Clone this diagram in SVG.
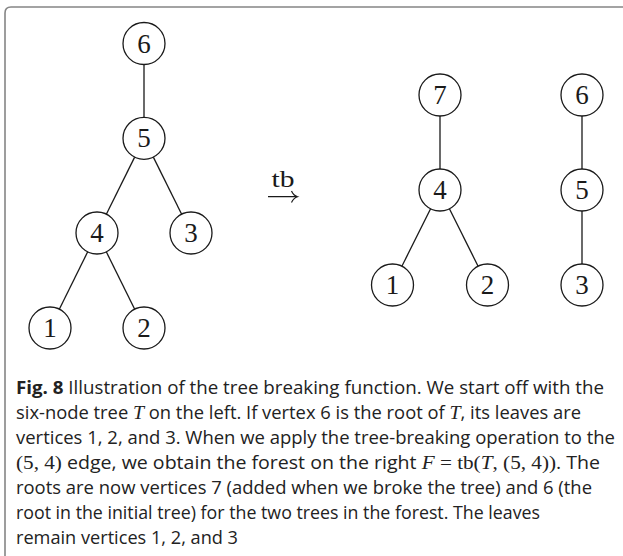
<svg xmlns="http://www.w3.org/2000/svg" width="623" height="556" viewBox="0 0 623 556">
  <style>
    .node circle { fill: #fff; stroke: #1a1a1a; stroke-width: 1.3; }
    .node text { font-family: "Liberation Serif", "DejaVu Serif", serif; font-size: 27px; fill: #1a1a1a; text-anchor: middle; }
    #edges line { stroke: #1a1a1a; stroke-width: 1.3; }
    .cap { font-family: "Open Sans", "Noto Sans", sans-serif; font-size: 18px; fill: #222; }
    .b { font-weight: bold; }
    .m { font-family: "Liberation Serif", "DejaVu Serif", serif; font-size: 19.5px; }
    .mi { font-family: "Liberation Serif", "DejaVu Serif", serif; font-size: 19.5px; font-style: italic; }
  </style>

  <rect width="623" height="556" fill="#fff"/>

  <!-- figure frame, open on the right and bottom -->
  <path d="M5,556 V13 Q5,7 11,7 H623" fill="none" stroke="#858585" stroke-width="1.6"/>

  <!-- tree edges -->
  <g id="edges">
    <!-- left tree -->
    <line x1="144" y1="64.5" x2="144" y2="117.3"/>
    <line x1="134.66" y1="157.11" x2="106.34" y2="214.19"/>
    <line x1="153.34" y1="157.11" x2="181.66" y2="214.19"/>
    <line x1="87.69" y1="251.82" x2="59.31" y2="309.18"/>
    <line x1="106.31" y1="251.82" x2="134.69" y2="309.18"/>
    <!-- right forest -->
    <line x1="440" y1="116" x2="440" y2="169"/>
    <line x1="430.61" y1="208.78" x2="401.89" y2="266.22"/>
    <line x1="449.39" y1="208.78" x2="478.11" y2="266.22"/>
    <line x1="582" y1="116" x2="582" y2="169"/>
    <line x1="582" y1="211" x2="582" y2="264"/>
  </g>

  <!-- left tree T -->
  <g id="t-6" class="node"><circle cx="144" cy="43.5" r="21"/><text x="144" y="52.5">6</text></g>
  <g id="t-5" class="node"><circle cx="144" cy="138.3" r="21"/><text x="144" y="147.3">5</text></g>
  <g id="t-4" class="node"><circle cx="97" cy="233" r="21"/><text x="97" y="242">4</text></g>
  <g id="t-3" class="node"><circle cx="191" cy="233" r="21"/><text x="191" y="242">3</text></g>
  <g id="t-1" class="node"><circle cx="50" cy="328" r="21"/><text x="50" y="337">1</text></g>
  <g id="t-2" class="node"><circle cx="144" cy="328" r="21"/><text x="144" y="337">2</text></g>

  <!-- tb operator -->
  <g id="tb-arrow">
    <text x="271.5" y="187" font-family="Liberation Serif, DejaVu Serif, serif" font-size="24" textLength="23" lengthAdjust="spacingAndGlyphs" fill="#1a1a1a">tb</text>
    <path d="M268,196.7 H297 M291.5,191 Q293.5,195.5 297.5,196.7 Q293.5,198 291.5,202.5" fill="none" stroke="#1a1a1a" stroke-width="1.2"/>
  </g>

  <!-- right forest F -->
  <g id="f-7" class="node"><circle cx="440" cy="95" r="21"/><text x="440" y="104">7</text></g>
  <g id="f-4" class="node"><circle cx="440" cy="190" r="21"/><text x="440" y="199">4</text></g>
  <g id="f-1" class="node"><circle cx="392.5" cy="285" r="21"/><text x="392.5" y="294">1</text></g>
  <g id="f-2" class="node"><circle cx="487.5" cy="285" r="21"/><text x="487.5" y="294">2</text></g>
  <g id="f-6" class="node"><circle cx="582" cy="95" r="21"/><text x="582" y="104">6</text></g>
  <g id="f-5" class="node"><circle cx="582" cy="190" r="21"/><text x="582" y="199">5</text></g>
  <g id="f-3" class="node"><circle cx="582" cy="285" r="21"/><text x="582" y="294">3</text></g>

  <!-- caption -->
  <g id="caption" class="cap">
    <text x="16" y="394" textLength="588" lengthAdjust="spacingAndGlyphs"><tspan class="b">Fig. 8</tspan> Illustration of the tree breaking function. We start off with the</text>
    <text x="16" y="419" textLength="565" lengthAdjust="spacingAndGlyphs">six-node tree <tspan class="mi">T</tspan> on the left. If vertex 6 is the root of <tspan class="mi">T</tspan>, its leaves are</text>
    <text x="16" y="444" textLength="599" lengthAdjust="spacingAndGlyphs">vertices 1, 2, and 3. When we apply the tree-breaking operation to the</text>
    <text x="16" y="469" textLength="584" lengthAdjust="spacingAndGlyphs"><tspan class="m">(5, 4)</tspan> edge, we obtain the forest on the right <tspan class="mi">F</tspan><tspan class="m"> = tb(</tspan><tspan class="mi">T</tspan><tspan class="m">, (5, 4))</tspan>. The</text>
    <text x="16" y="494" textLength="576" lengthAdjust="spacingAndGlyphs">roots are now vertices 7 (added when we broke the tree) and 6 (the</text>
    <text x="16" y="519" textLength="524" lengthAdjust="spacingAndGlyphs">root in the initial tree) for the two trees in the forest. The leaves</text>
    <text x="16" y="544" textLength="222" lengthAdjust="spacingAndGlyphs">remain vertices 1, 2, and 3</text>
  </g>
</svg>
